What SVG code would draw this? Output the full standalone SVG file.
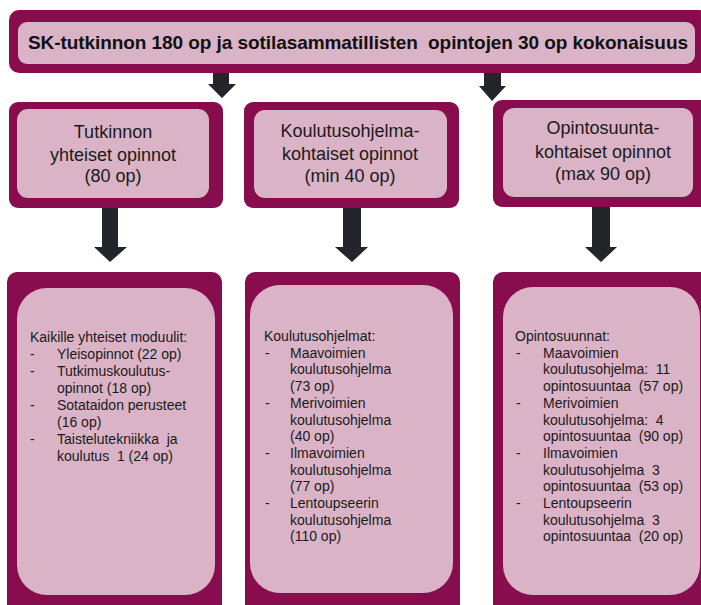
<svg xmlns="http://www.w3.org/2000/svg" width="701" height="605" viewBox="0 0 701 605" xml:space="preserve">
<style>
.outer{fill:#870d4e}
.inner{fill:#dbb3c6}
.arrow{fill:#22262a}
text{white-space:pre}
.title{font-family:"Liberation Sans",Arial,sans-serif;font-weight:bold;font-size:19px;fill:#111}
.mid{font-family:"Liberation Sans",Arial,sans-serif;font-size:18px;fill:#1a1a1a;text-anchor:middle}
.list{font-family:"Liberation Sans",Arial,sans-serif;font-size:14px;fill:#1a1a1a}
</style>
<rect width="701" height="605" fill="#ffffff"/>
<g id="top">
<rect class="outer" x="9" y="10" width="700" height="63" rx="10"/>
<rect class="inner" x="18" y="22" width="677" height="42" rx="9"/>
<text class="title" x="28" y="49" textLength="660" lengthAdjust="spacing">SK-tutkinnon 180 op ja sotilasammatillisten  opintojen 30 op kokonaisuus</text>
</g>
<g id="connectors">
<polygon class="arrow" points="213,73 229,73 229,84 236,84 222,98 208,84 213,84"/>
<polygon class="arrow" points="484,73 501,73 501,86 506,86 492,101 479,86 484,86"/>
<polygon class="arrow" points="102,208 118,208 118,247 127,247 110,262 94,247 102,247"/>
<polygon class="arrow" points="343,208 361,208 361,247 368,247 352,262 335,247 343,247"/>
<polygon class="arrow" points="592,207 610,207 610,247 617,247 601,262 585,247 592,247"/>
</g>
<g id="mid1">
<rect class="outer" x="9" y="102" width="214" height="106" rx="9"/>
<rect class="inner" x="17" y="109" width="192" height="89" rx="11"/>
<text class="mid" x="113" y="138">Tutkinnon</text>
<text class="mid" x="113" y="161">yhteiset opinnot</text>
<text class="mid" x="113" y="182">(80 op)</text>
</g>
<g id="mid2">
<rect class="outer" x="244" y="102" width="215" height="106" rx="9"/>
<rect class="inner" x="254" y="110" width="193" height="88" rx="11"/>
<text class="mid" x="350" y="137">Koulutusohjelma-</text>
<text class="mid" x="350" y="160">kohtaiset opinnot</text>
<text class="mid" x="350" y="182">(min 40 op)</text>
</g>
<g id="mid3">
<rect class="outer" x="493" y="100" width="220" height="107" rx="9"/>
<rect class="inner" x="503" y="108" width="190" height="89" rx="11"/>
<text class="mid" x="603" y="134">Opintosuunta-</text>
<text class="mid" x="603" y="158">kohtaiset opinnot</text>
<text class="mid" x="603" y="180">(max 90 op)</text>
</g>
<g id="bottom1">
<rect class="outer" x="7" y="272" width="215" height="345" rx="10"/>
<rect class="inner" x="17" y="288" width="198" height="307" rx="30"/>
<text class="list" x="30" y="342">Kaikille yhteiset moduulit:</text>
<text class="list" x="30" y="359">-</text><text class="list" x="57" y="359">Yleisopinnot (22 op)</text>
<text class="list" x="30" y="376">-</text><text class="list" x="57" y="376">Tutkimuskoulutus-</text>
<text class="list" x="57" y="393">opinnot (18 op)</text>
<text class="list" x="30" y="410">-</text><text class="list" x="57" y="410">Sotataidon perusteet</text>
<text class="list" x="57" y="427">(16 op)</text>
<text class="list" x="30" y="444">-</text><text class="list" x="57" y="444">Taistelutekniikka  ja</text>
<text class="list" x="57" y="461">koulutus  1 (24 op)</text>
</g>
<g id="bottom2">
<rect class="outer" x="245" y="272" width="215" height="345" rx="10"/>
<rect class="inner" x="250" y="285" width="203" height="308" rx="30"/>
<text class="list" x="264" y="341">Koulutusohjelmat:</text>
<text class="list" x="265" y="357.7">-</text><text class="list" x="290" y="357.7">Maavoimien</text>
<text class="list" x="290" y="374.4">koulutusohjelma</text>
<text class="list" x="290" y="391.1">(73 op)</text>
<text class="list" x="265" y="407.8">-</text><text class="list" x="290" y="407.8">Merivoimien</text>
<text class="list" x="290" y="424.5">koulutusohjelma</text>
<text class="list" x="290" y="441.2">(40 op)</text>
<text class="list" x="265" y="457.9">-</text><text class="list" x="290" y="457.9">Ilmavoimien</text>
<text class="list" x="290" y="474.6">koulutusohjelma</text>
<text class="list" x="290" y="491.3">(77 op)</text>
<text class="list" x="265" y="508">-</text><text class="list" x="290" y="508">Lentoupseerin</text>
<text class="list" x="290" y="524.7">koulutusohjelma</text>
<text class="list" x="290" y="541.4">(110 op)</text>
</g>
<g id="bottom3">
<rect class="outer" x="493" y="272" width="220" height="345" rx="10"/>
<rect class="inner" x="503" y="287" width="197" height="308" rx="30"/>
<text class="list" x="515" y="341">Opintosuunnat:</text>
<text class="list" x="516" y="357.7">-</text><text class="list" x="543" y="357.7">Maavoimien</text>
<text class="list" x="543" y="374.4">koulutusohjelma:  11</text>
<text class="list" x="543" y="391.1">opintosuuntaa  (57 op)</text>
<text class="list" x="516" y="407.8">-</text><text class="list" x="543" y="407.8">Merivoimien</text>
<text class="list" x="543" y="424.5">koulutusohjelma:  4</text>
<text class="list" x="543" y="441.2">opintosuuntaa  (90 op)</text>
<text class="list" x="516" y="457.9">-</text><text class="list" x="543" y="457.9">Ilmavoimien</text>
<text class="list" x="543" y="474.6">koulutusohjelma  3</text>
<text class="list" x="543" y="491.3">opintosuuntaa  (53 op)</text>
<text class="list" x="516" y="508">-</text><text class="list" x="543" y="508">Lentoupseerin</text>
<text class="list" x="543" y="524.7">koulutusohjelma  3</text>
<text class="list" x="543" y="541.4">opintosuuntaa  (20 op)</text>
</g>
</svg>
